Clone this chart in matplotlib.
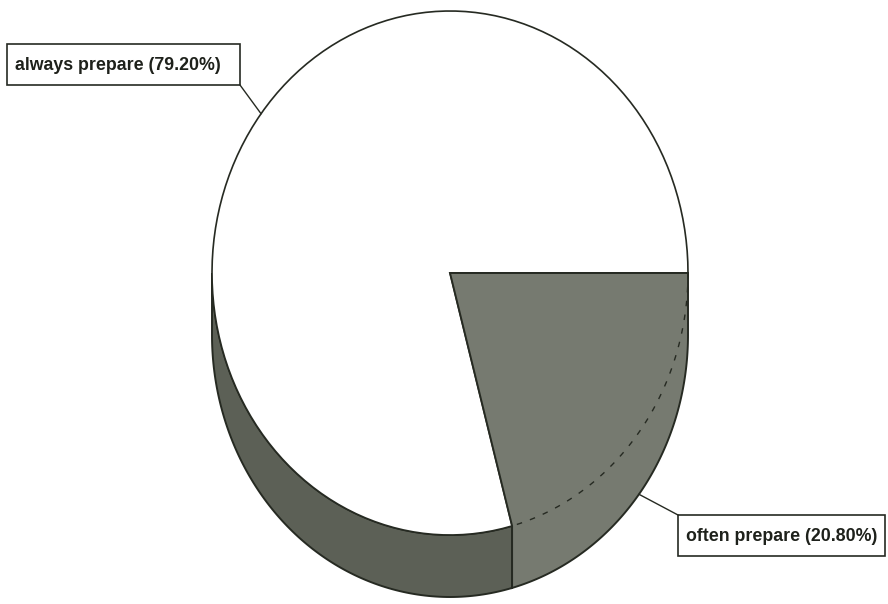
"""3D-style pie chart: how often respondents prepare."""

import matplotlib

matplotlib.use("Agg")
import matplotlib.pyplot as plt
import numpy as np
from matplotlib.patches import Rectangle

labels = ["always prepare", "often prepare"]
shares = [79.20, 20.80]

# pie geometry (pixel-like data coordinates, y down)
CX, CY = 450, 273
RX, RY = 238, 262
DEPTH = 62
EDGE = "#262a22"
WEDGE_GREY = "#767a70"
SIDE_GREY = "#5c6056"

plt.rcParams["font.family"] = ["Liberation Sans", "DejaVu Sans"]


def arc(t0, t1, dy=0.0, n=120):
    t = np.radians(np.linspace(t0, t1, n))
    return CX + RX * np.cos(t), CY + dy + RY * np.sin(t)


fig = plt.figure(figsize=(8.88, 6.04), dpi=100)
ax = fig.add_axes([0, 0, 1, 1])
ax.set_xlim(0, 888)
ax.set_ylim(604, 0)
ax.axis("off")

# "often" slice starts at 3 o'clock and runs clockwise on screen
theta = 360 * shares[1] / sum(shares)

# side face of the large slice (visible part only)
tx, ty = arc(theta, 180)
bx, by = arc(180, theta, DEPTH)
ax.fill(np.r_[tx, bx], np.r_[ty, by], facecolor=SIDE_GREY, edgecolor=EDGE, linewidth=1.4)

# top face of the large slice
wx, wy = arc(theta, 360)
ax.fill(np.r_[CX, wx, CX], np.r_[CY, wy, CY], facecolor="white", edgecolor=EDGE, linewidth=1.2)

# small slice: top face plus its side in one outline
sx, sy = arc(theta, 0, DEPTH)
ptx, pty = arc(theta, theta, n=1)
ax.fill(
    np.r_[CX, ptx, sx, CX + RX, CX],
    np.r_[CY, pty, sy, CY, CY],
    facecolor=WEDGE_GREY,
    edgecolor=EDGE,
    linewidth=1.4,
)
dx, dy = arc(0, theta)
ax.plot(dx, dy, color=EDGE, linewidth=1.0, linestyle=(0, (4, 6)))
ax.plot([ptx[0], ptx[0]], [pty[0], pty[0] + DEPTH], color=EDGE, linewidth=0.7, linestyle=(0, (1, 2)))

# label boxes with leader lines to the slice middles
boxes = [(7, 44, 233, 41), (678, 515, 207, 41)]
corners = [(240, 85), (678, 515)]
mids = [theta + (360 - theta) / 2, theta / 2]
offsets = [0, DEPTH]
for label, share, box, corner, mid, off in zip(labels, shares, boxes, corners, mids, offsets):
    x0, y0, w, h = box
    ax.add_patch(Rectangle((x0, y0), w, h, facecolor="white", edgecolor=EDGE, linewidth=1.2))
    ax.text(
        x0 + 8,
        y0 + h / 2 + 1,
        f"{label} ({share:.2f}%)",
        ha="left",
        va="center",
        fontsize=12.8,
        fontweight="bold",
        color="#1e211b",
    )
    lx, ly = arc(mid, mid, off, n=1)
    ax.plot([corner[0], lx[0]], [corner[1], ly[0]], color=EDGE, linewidth=1.0)

fig.savefig("out.png", dpi=100, facecolor="white")
